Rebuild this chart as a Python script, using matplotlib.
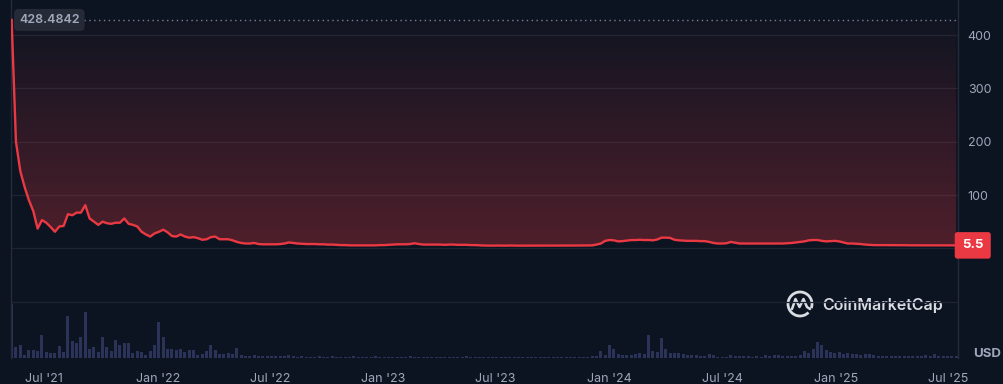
import numpy as np
import pandas as pd
import matplotlib
matplotlib.use('Agg')
import matplotlib.pyplot as plt
import matplotlib.dates as mdates
import matplotlib.transforms as mtransforms
from matplotlib.colors import LinearSegmentedColormap
from matplotlib.patches import Arc

plt.rcParams['font.family'] = ['Inter', 'DejaVu Sans']

# weekly close price (USD) and weekly volume, starting 2021-05-10
start = '2021-05-10'
price = [
    428.4842, 200, 145, 115, 90, 70, 37, 53, 48, 40,
    31, 41, 42, 64, 62, 67, 67, 81, 56, 50,
    44, 50, 47, 46, 48, 48, 56, 46, 44, 41,
    31, 26, 22, 28, 31, 35, 30, 23, 22, 26,
    22, 20, 21, 19, 16, 17, 21, 22, 17, 17,
    17, 15, 12, 10, 9, 9, 10, 8, 7.5, 7.5,
    7.5, 7.5, 8, 9, 11, 10, 9, 8.5, 8, 8,
    8, 7.5, 7.5, 7, 7, 6.5, 6, 6, 5.5, 5.5,
    5.5, 5.5, 5.5, 5.5, 5.5, 6, 6, 6.5, 7, 7.5,
    7.5, 7.5, 8, 9.5, 8, 7, 7, 7, 7, 7,
    6.5, 7, 7, 6.5, 6.5, 6.5, 6, 6, 5.5, 5.2,
    5, 5, 5.2, 5, 5, 5.2, 5, 5, 5, 5.2,
    5, 5, 5, 5.2, 5, 5, 5, 5, 5, 5.2,
    5.2, 5.3, 5.5, 5.5, 5.5, 7, 9, 14, 15.6, 15,
    13, 13.5, 14.5, 15.5, 15.5, 16, 15.5, 15.6, 15, 16.5,
    20, 20, 19.5, 16, 15, 14.5, 14, 14, 14, 13.5,
    13.5, 12, 10, 9, 9, 9.5, 12, 10.5, 9, 9,
    9, 9, 9, 9, 9, 9, 9, 9, 9, 9.5,
    10, 11, 12, 13, 15, 15.6, 15.6, 14, 13, 13.5,
    14, 13, 11, 9, 9, 8.5, 8, 7, 6.5, 6,
    6, 6, 6, 5.8, 5.8, 5.8, 5.8, 5.6, 5.6, 5.6,
    5.6, 5.5, 5.5, 5.5, 5.6, 5.6, 5.5, 5.5, 5.5,
]
volume = [
    53, 11, 13, 3, 8, 8, 7, 23, 6, 5,
    5, 12, 6, 41, 17, 15, 21, 45, 9, 11,
    6, 21, 11, 7, 18, 13, 15, 15, 5, 7,
    6, 3, 7, 13, 35, 21, 9, 9, 8, 9,
    6, 8, 8, 3, 4, 7, 13, 8, 4, 4,
    5, 4, 10, 3, 2, 2, 3, 2, 1.5, 2,
    1.5, 1.5, 2, 1.5, 3, 1.5, 1, 1.5, 1, 1,
    1, 1.5, 1, 1, 1.5, 1, 1, 1, 1, 1.5,
    1, 1, 1, 1, 1.5, 1, 1, 1, 1, 1,
    1, 1, 1.5, 1, 1, 1, 1, 1, 1, 1,
    1, 1, 1, 1, 1, 1.5, 1, 1, 1, 1,
    1, 1, 1, 1, 1, 1, 1, 1, 1, 1,
    1, 1, 1, 1, 1, 1, 1, 1, 1, 1,
    1, 1, 1, 1, 1.5, 2, 7, 3, 13, 9,
    4, 3, 3, 3, 4, 5, 4, 23, 7, 6,
    20, 9, 5, 5, 5, 4, 3, 3, 3, 2,
    2, 4, 3, 1, 1, 1, 3, 2, 2, 1.5,
    1.5, 1, 1.5, 1, 3, 2, 3, 3, 2, 2,
    2, 2, 3, 7, 5, 9, 16, 13, 8, 6,
    5, 6, 4, 5, 4, 4, 3, 4, 4, 3,
    2, 2, 2, 2, 2, 2, 2, 2, 2, 2,
    2, 3, 2, 4, 2, 2, 2, 2, 2,
]
open_price = 428.4842
last_price = 5.5
price_ticks = [100, 200, 300, 400]
grid_levels = [-100, 0, 100, 200, 300, 400]
tick_dates = pd.date_range('2021-07-01', '2025-07-01', freq='6MS')
tick_labels = ["Jul '21", "Jan '22", "Jul '22", "Jan '23", "Jul '23",
               "Jan '24", "Jul '24", "Jan '25", "Jul '25"]

dates = pd.date_range(start, periods=len(price), freq='7D')
xn = mdates.date2num(dates)

bg = '#0d1421'
red = '#ea3943'
grid_c = '#1f2433'
txt_c = '#a1a7bb'

W, H = 1004, 384
fig = plt.figure(figsize=(W / 100, H / 100), dpi=100)
fig.patch.set_facecolor(bg)
ax = fig.add_axes([11 / W, 26 / H, 947 / W, 358 / H])
ax.set_facecolor(bg)

# volume panel (bottom)
axv = ax.twinx()
axv.bar(xn, volume, width=5.0, color='#2b3458', zorder=1)
axv.set_ylim(0, max(volume) * 358 / 54)
axv.axis('off')
ax.set_zorder(axv.get_zorder() + 1)
ax.patch.set_visible(False)

for g in grid_levels:
    ax.axhline(g, color=grid_c, lw=0.9, zorder=0)

# gradient fill between line and opening price
poly = ax.fill_between(xn, price, open_price, color='none', lw=0)
cmap = LinearSegmentedColormap.from_list(
    'g', [(0.918, 0.224, 0.263, 0.30), (0.918, 0.224, 0.263, 0.02)])
grad = np.linspace(0, 1, 256).reshape(-1, 1)
im = ax.imshow(grad, aspect='auto', cmap=cmap, origin='lower',
               extent=[xn[0], xn[-1], 0, open_price], zorder=1)
im.set_clip_path(poly.get_paths()[0], transform=ax.transData)

ax.plot(xn, price, color=red, lw=1.7, zorder=3, solid_joinstyle='round')
ax.axhline(open_price, color='#7a8196', lw=1.0, ls=(0, (1, 2.5)), zorder=2)

ax.set_xlim(mdates.date2num(pd.Timestamp('2021-05-09')),
            mdates.date2num(pd.Timestamp('2025-07-17')))
ax.set_ylim(-205.8, 465.9)

ax.yaxis.tick_right()
ax.set_yticks(price_ticks)
ax.set_xticks(mdates.date2num(tick_dates))
ax.set_xticklabels(tick_labels)
ax.tick_params(axis='y', length=0, pad=7, labelsize=9, labelcolor=txt_c)
ax.tick_params(axis='x', length=0, pad=11, labelsize=9, labelcolor=txt_c)
for s in ['top', 'bottom']:
    ax.spines[s].set_visible(False)
for s in ['left', 'right']:
    ax.spines[s].set_color('#262b3a')
    ax.spines[s].set_linewidth(1.0)

blend = mtransforms.blended_transform_factory(ax.transAxes, ax.transData)
ax.text(8 / 947, open_price, f'{open_price:.4f}', transform=blend,
        ha='left', va='center', fontsize=9, fontweight='semibold',
        color=txt_c, zorder=5,
        bbox=dict(boxstyle='round,pad=0.4,rounding_size=0.35',
                  fc='#252a36', ec='none'))
ax.text(1 + 4 / 947, last_price, f'{last_price}', transform=blend,
        ha='left', va='center', fontsize=9.5, fontweight='bold',
        color='white', zorder=5, clip_on=False,
        bbox=dict(boxstyle='round,pad=0.55,rounding_size=0.2',
                  fc=red, ec='none'))

fig.text(973 / W, 1 - 354 / H, 'USD', ha='left', va='center',
         fontsize=9.5, fontweight='bold', color=txt_c)

# CoinMarketCap watermark
ov = fig.add_axes([0, 0, 1, 1])
ov.set_xlim(0, W)
ov.set_ylim(H, 0)
ov.axis('off')
ov.patch.set_visible(False)
ov.add_patch(Arc((800, 304), 24, 24, theta1=45, theta2=380,
                 color='#d9dce3', lw=2.0))
ov.plot([792, 795.5, 799.5, 803.5, 807, 810], [309, 299, 307, 299, 307, 309],
        color='#d9dce3', lw=1.8, solid_joinstyle='round',
        solid_capstyle='round')
ov.text(822, 305, 'CoinMarketCap', ha='left', va='center', fontsize=11.5,
        fontweight='semibold', color='#d9dce3')

fig.savefig('out.png', dpi=100, facecolor=bg)
